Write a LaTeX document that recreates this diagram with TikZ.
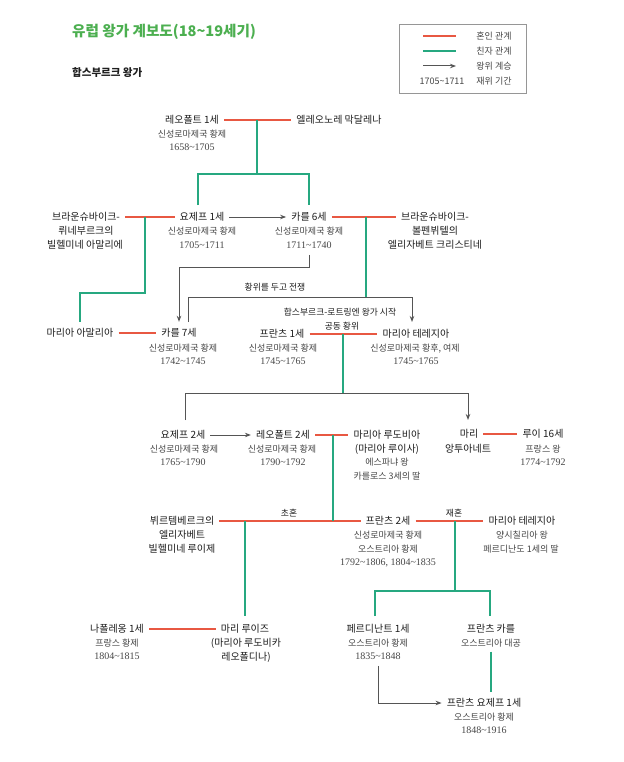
\documentclass[tikz,border=0pt]{standalone}
\usepackage{fontspec}
\setmainfont{Noto Sans CJK KR}
\newfontfamily\yrfont{Liberation Serif}
\usetikzlibrary{arrows.meta}
\definecolor{titlegreen}{RGB}{76,175,80}
\definecolor{marrred}{RGB}{232,88,66}
\definecolor{kingreen}{RGB}{38,168,128}
\definecolor{succgray}{RGB}{85,85,85}
\definecolor{ink}{RGB}{30,30,30}
\definecolor{subink}{RGB}{70,70,70}
\definecolor{boxgray}{RGB}{150,150,150}
\newcommand\wv{\textasciitilde}
\begin{document}
\begin{tikzpicture}[x=1pt,y=-1pt,
 nm/.style={font=\fontsize{10}{12}\selectfont, text=ink, inner xsep=5pt, inner ysep=0pt, text height=8.5pt, text depth=1.5pt},
 sb/.style={font=\fontsize{9}{10}\selectfont, text=subink, inner sep=0pt, text height=7.5pt, text depth=1.3pt},
 yr/.style={font=\yrfont\fontsize{10}{12}\selectfont, text=subink, inner xsep=0pt, inner ysep=2pt, text height=7pt, text depth=0.5pt},
 note/.style={font=\fontsize{8.8}{10}\selectfont, text=ink, inner sep=0pt},
 leg/.style={font=\fontsize{9}{10}\selectfont, text=subink, inner sep=0pt},
 marr/.style={draw=marrred, line width=1.25pt},
 kin/.style={draw=kingreen, line width=1.3pt},
 succ/.style={draw=succgray, line width=1pt, -{Stealth[length=6pt,width=4.5pt]}},
 link/.style={draw=succgray, line width=1pt},
]
\useasboundingbox (0,0) rectangle (623,762);
\fill[white] (0,0) rectangle (623,762);

% title
\node[anchor=west, inner sep=0pt, text=titlegreen, font=\fontsize{14.6}{16}\selectfont\bfseries] (title) at (72,32) {유럽 왕가 계보도(18\wv19세기)};
\node[anchor=west, inner sep=0pt, text=ink, font=\fontsize{10.5}{12}\selectfont\bfseries] (house) at (72,73) {합스부르크 왕가};

% legend
\node[draw=boxgray, line width=0.7pt, minimum width=127pt, minimum height=69pt, inner sep=0pt] (legend) at (462.5,58.5) {};
\coordinate (lgA1) at (423,36); \coordinate (lgA2) at (456,36);
\coordinate (lgB1) at (423,51); \coordinate (lgB2) at (456,51);
\coordinate (lgC1) at (423,66); \coordinate (lgC2) at (456,66);
\draw[marr] (lgA1) -- (lgA2);
\draw[kin] (lgB1) -- (lgB2);
\draw[succ] (lgC1) -- (lgC2);
\node[leg] (lgt1) at (494,36) {혼인 관계};
\node[leg] (lgt2) at (494,51) {친자 관계};
\node[leg] (lgt3) at (494,66) {왕위 계승};
\node[leg] (lgt4) at (494,81) {재위 기간};
\node[leg] (lgt5) at (442,81) {1705\wv1711};

% row 1
\node[nm] (leo1) at (192,120) {레오폴트 1세};
\node[sb] (leo1s) at (192,134) {신성로마제국 황제};
\node[yr] (leo1y) at (192,147) {1658\wv1705};
\node[nm] (eleo) at (339,120) {엘레오노레 막달레나};

% row 2
\node[nm] (wil) at (86,217) {브라운슈바이크-};
\node[nm] (wil2) at (86,231) {뤼네부르크의};
\node[nm] (wil3) at (85,245) {빌헬미네 아말리에};
\node[nm] (jos1) at (202,217) {요제프 1세};
\node[sb] (jos1s) at (202,231) {신성로마제국 황제};
\node[yr] (jos1y) at (202,245) {1705\wv1711};
\node[nm] (kar6) at (309,217) {카를 6세};
\node[sb] (kar6s) at (309,231) {신성로마제국 황제};
\node[yr] (kar6y) at (309,245) {1711\wv1740};
\node[nm] (eli) at (435,217) {브라운슈바이크-};
\node[nm] (eli2) at (435,231) {볼펜뷔텔의};
\node[nm] (eli3) at (435,245) {엘리자베트 크리스티네};

% row 3
\node[nm] (mam) at (80,333) {마리아 아말리아};
\node[nm] (kar7) at (179,333) {카를 7세};
\node[sb] (kar7s) at (183,348) {신성로마제국 황제};
\node[yr] (kar7y) at (183,361) {1742\wv1745};
\node[nm] (fr1) at (282,334) {프란츠 1세};
\node[sb] (fr1s) at (283,348) {신성로마제국 황제};
\node[yr] (fr1y) at (283,361) {1745\wv1765};
\node[nm] (mth) at (416,334) {마리아 테레지아};
\node[sb] (mths) at (415,348) {신성로마제국 황후, 여제};
\node[yr] (mthy) at (416,361) {1745\wv1765};
\node[note] (war) at (275,287) {황위를 두고 전쟁};
\node[note] (hl) at (340,312) {합스부르크-로트링엔 왕가 시작};
\node[note] (co) at (342,326) {공동 황위};

% row 4
\node[nm] (jos2) at (183,435) {요제프 2세};
\node[sb] (jos2s) at (184,449) {신성로마제국 황제};
\node[yr] (jos2y) at (183,462) {1765\wv1790};
\node[nm] (leo2) at (283,435) {레오폴트 2세};
\node[sb] (leo2s) at (282,449) {신성로마제국 황제};
\node[yr] (leo2y) at (283,462) {1790\wv1792};
\node[nm] (mlu) at (387,435) {마리아 루도비아};
\node[nm] (mlu2) at (387,449) {(마리아 루이사)};
\node[sb] (mlus) at (387,462) {에스파냐 왕};
\node[sb] (mlus2) at (387,476) {카를로스 3세의 딸};
\node[nm] (mant) at (469,434) {마리};
\node[nm] (mant2) at (468,449) {앙투아네트};
\node[nm] (lou) at (543,434) {루이 16세};
\node[sb] (lous) at (543,449) {프랑스 왕};
\node[yr] (louy) at (543,462) {1774\wv1792};

% row 5
\node[nm] (elw) at (182,521) {뷔르템베르크의};
\node[nm] (elw2) at (182,535) {엘리자베트};
\node[nm] (elw3) at (182,549) {빌헬미네 루이제};
\node[nm] (fr2) at (388,521) {프란츠 2세};
\node[sb] (fr2s) at (388,535) {신성로마제국 황제};
\node[sb] (fr2s2) at (388,549) {오스트리아 황제};
\node[yr] (fr2y) at (388,562) {1792\wv1806, 1804\wv1835};
\node[nm] (mt2) at (522,521) {마리아 테레지아};
\node[sb] (mt2s) at (522,535) {양시칠리아 왕};
\node[sb] (mt2s2) at (521,549) {페르디난도 1세의 딸};
\node[note] (first) at (289,513) {초혼};
\node[note] (second) at (454,513) {재혼};

% row 6
\node[nm] (nap) at (117,629) {나폴레옹 1세};
\node[sb] (naps) at (117,643) {프랑스 황제};
\node[yr] (napy) at (117,656) {1804\wv1815};
\node[nm] (mlz) at (245,629) {마리 루이즈};
\node[nm] (mlz2) at (246,643) {(마리아 루도비카};
\node[nm] (mlz3) at (246,657) {레오폴디나)};
\node[nm] (fer) at (378,629) {페르디난트 1세};
\node[sb] (fers) at (378,643) {오스트리아 황제};
\node[yr] (fery) at (378,656) {1835\wv1848};
\node[nm] (fk) at (491,629) {프란츠 카를};
\node[sb] (fks) at (491,643) {오스트리아 대공};

% row 7
\node[nm] (fj) at (484,703) {프란츠 요제프 1세};
\node[sb] (fjs) at (484,717) {오스트리아 황제};
\node[yr] (fjy) at (484,730) {1848\wv1916};

% marriages
\draw[marr] (leo1.east) -- (eleo.west);
\draw[marr] (wil.east) -- (jos1.west);
\draw[marr] (kar6.east) -- (eli.west);
\draw[marr] (mam.east) -- (kar7.west);
\draw[marr] (fr1.east) -- (mth.west);
\draw[marr] (leo2.east) -- (mlu.west);
\draw[marr] (mant.east) -- (lou.west);
\draw[marr] (elw.east) -- (fr2.west);
\draw[marr] (fr2.east) -- (mt2.west);
\draw[marr] (nap.east) -- (mlz.west);

% kinship
\coordinate (mLeo1) at (257,120);
\coordinate (mJos1) at (145,217);
\coordinate (mKar6) at (366,217);
\coordinate (mFr1) at (343,334);
\coordinate (mLeo2) at (333,435);
\coordinate (mFr2a) at (245,521);
\coordinate (mFr2b) at (455,521);
\draw[kin] (mLeo1) -- (257,174);
\draw[kin] (198,205) |- (309,174) -- (309,205);
\draw[kin] (mJos1) -- (145,293) -| (80,322);
\draw[kin] (mKar6) -- (366,297);
\draw[kin] (mFr1) -- (343,393);
\draw[kin] (mLeo2) -- (333,521);
\draw[kin] (mFr2a) -- (245,616);
\draw[kin] (mFr2b) -- (455,591);
\draw[kin] (375,616) |- (490,591) -- (490,616);
\draw[kin] ([yshift=-4pt]fks.south) -- (491,692);

% succession
\draw[succ] (jos1.east) -- (kar6.west);
\draw[succ] ([yshift=-4pt]kar6y.south) -- ++(0,13) -| ([yshift=6pt]kar7.north);
\coordinate (warL) at (188,322);
\coordinate (warR) at (412,322);
\draw[succ] (warL) |- (412,297) -- (warR);
\coordinate (genL) at (185,420);
\coordinate (genR) at (468,420);
\draw[link] (genL) |- (343,393);
\draw[succ] (343,393) -| (genR);
\draw[succ] (jos2.east) -- (leo2.west);
\draw[succ] ([yshift=-4pt]fery.south) |- (fj.west);
\end{tikzpicture}
\end{document}
